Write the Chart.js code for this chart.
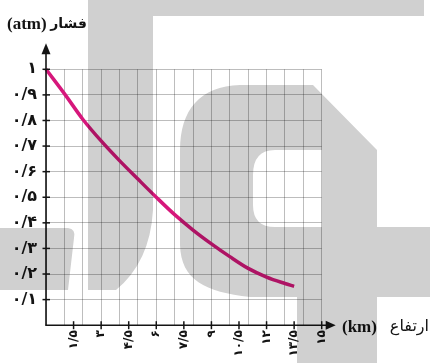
<!DOCTYPE html>
<html><head><meta charset="utf-8">
<script src="https://cdn.jsdelivr.net/npm/chart.js@4"></script>
<style>html,body{margin:0;padding:0;background:#fff;}#wrap{width:430px;height:363px;position:relative;}</style>
</head><body><div id="wrap"><canvas id="c" width="430" height="363"></canvas></div>
<script>
// ---- data ----
const altitudeKm  = [0, 1, 2, 3, 4, 5, 6, 7, 8, 9, 10, 11, 12, 13, 13.5];
const pressureAtm = [1.00, 0.905, 0.805, 0.72, 0.643, 0.571, 0.50, 0.432, 0.372, 0.318, 0.268, 0.222, 0.188, 0.163, 0.152];
const yTickLabels = ['', '۰/۱', '۰/۲', '۰/۳', '۰/۴', '۰/۵', '۰/۶', '۰/۷', '۰/۸', '۰/۹', '۱'];
const xTickLabels = ['', '۱/۵', '۳', '۴/۵', '۶', '۷/۵', '۹', '۱۰/۵', '۱۲', '۱۳/۵', '۱۵'];
const yTitleWord = 'فشار';
const yTitleUnit = '(atm)';
const xTitleUnit = '(km)';
const xTitleWord = 'ارتفاع';

const points = altitudeKm.map((x, i) => ({x: x, y: pressureAtm[i]}));
const gridColor = 'rgba(0,0,0,0.26)';
const ink = '#141414';

function watermark(ctx) {
  ctx.fillStyle = '#d0d0d0';
  ctx.beginPath();
  ctx.moveTo(88, 0); ctx.lineTo(424, 0); ctx.lineTo(424, 16); ctx.lineTo(153, 16);
  ctx.lineTo(153, 210); ctx.quadraticCurveTo(150, 262, 116, 290); ctx.lineTo(88, 290); ctx.closePath();
  ctx.fill();
  ctx.beginPath();
  ctx.moveTo(0, 228); ctx.lineTo(68, 228); ctx.quadraticCurveTo(76, 229, 74, 238); ctx.lineTo(68, 290); ctx.lineTo(0, 290); ctx.closePath();
  ctx.fill();
  ctx.beginPath();
  ctx.moveTo(180, 245); ctx.lineTo(180, 150); ctx.bezierCurveTo(180, 110, 200, 86, 240, 85); ctx.lineTo(313, 85);
  ctx.lineTo(377, 150); ctx.lineTo(377, 227); ctx.lineTo(430, 227); ctx.lineTo(430, 297); ctx.lineTo(377, 297);
  ctx.lineTo(377, 363); ctx.lineTo(297, 363); ctx.lineTo(297, 297); ctx.lineTo(250, 297);
  ctx.bezierCurveTo(205, 292, 181, 280, 180, 245); ctx.closePath();
  ctx.moveTo(322, 150); ctx.lineTo(275, 150); ctx.quadraticCurveTo(253, 150, 253, 175); ctx.lineTo(253, 205);
  ctx.quadraticCurveTo(253, 227, 275, 227); ctx.lineTo(322, 227); ctx.closePath();
  ctx.fill('evenodd');
}

const decor = {
  id: 'decor',
  afterDraw(chart) {
    const ctx = chart.ctx, a = chart.chartArea;
    const xs = chart.scales.xl, ys = chart.scales.y;
    const x0 = xs.getPixelForValue(0), y0 = ys.getPixelForValue(0);
    ctx.save();
    ctx.strokeStyle = ink; ctx.fillStyle = ink; ctx.lineWidth = 1.6;
    ctx.beginPath(); ctx.moveTo(x0, y0 + 0.5); ctx.lineTo(x0, a.top - 17); ctx.stroke();
    ctx.beginPath(); ctx.moveTo(x0 - 0.5, y0); ctx.lineTo(a.right + 7, y0); ctx.stroke();
    ctx.beginPath(); ctx.moveTo(x0, a.top - 26); ctx.lineTo(x0 - 4.5, a.top - 15); ctx.lineTo(x0 + 4.5, a.top - 15); ctx.closePath(); ctx.fill();
    ctx.beginPath(); ctx.moveTo(a.right + 14, y0); ctx.lineTo(a.right + 4, y0 - 4.5); ctx.lineTo(a.right + 4, y0 + 4.5); ctx.closePath(); ctx.fill();
    ctx.lineWidth = 1.5;
    ys.ticks.forEach(t => {
      if (t.value > 0.001) { const p = ys.getPixelForValue(t.value); ctx.beginPath(); ctx.moveTo(x0 - 3.5, p); ctx.lineTo(x0 + 4, p); ctx.stroke(); }
    });
    xs.ticks.forEach(t => {
      if (t.value > 0.001) { const p = xs.getPixelForValue(t.value); ctx.beginPath(); ctx.moveTo(p, y0 - 4); ctx.lineTo(p, y0 + 4); ctx.stroke(); }
    });
    // titles
    ctx.textBaseline = 'alphabetic';
    ctx.direction = 'ltr'; ctx.textAlign = 'left';
    ctx.font = 'bold 17px "Liberation Serif", serif';
    ctx.fillText(yTitleUnit, 7, 29);
    ctx.fillText(xTitleUnit, 342, 332);
    ctx.direction = 'rtl'; ctx.textAlign = 'right';
    ctx.font = 'bold 14px "DejaVu Sans", sans-serif';
    ctx.fillText(yTitleWord, 87, 28);
    ctx.font = '16px "DejaVu Sans", sans-serif';
    ctx.fillText(xTitleWord, 429, 331);
    // watermark (multiply)
    ctx.globalCompositeOperation = 'multiply';
    watermark(ctx);
    ctx.restore();
  }
};

new Chart(document.getElementById('c'), {
  type: 'line',
  data: { datasets: [{
    data: points, xAxisID: 'x', yAxisID: 'y',
    borderColor: '#d6177b', borderWidth: 3.5, pointRadius: 0,
    cubicInterpolationMode: 'monotone', fill: false, clip: 6
  }]},
  options: {
    responsive: false, animation: false, devicePixelRatio: 1,
    layout: { padding: { top: 69.3, right: 108.3, bottom: 0, left: 0 } },
    plugins: { legend: { display: false }, tooltip: { enabled: false }, title: { display: false } },
    scales: {
      x: {
        type: 'linear', position: 'bottom', min: 0, max: 15,
        ticks: { stepSize: 1, display: false },
        grid: { color: gridColor, lineWidth: 1, drawTicks: false },
        border: { display: false },
        afterFit(s) { s.height = 0; }
      },
      xl: {
        type: 'linear', position: 'bottom', min: 0, max: 15,
        ticks: { stepSize: 1.5, autoSkip: false, minRotation: 90, maxRotation: 90, padding: 5,
          color: ink, font: { family: '"DejaVu Sans", sans-serif', size: 12, weight: 'bold' },
          callback: (v, i) => xTickLabels[i] },
        grid: { display: false, drawTicks: false },
        border: { display: false },
        afterFit(s) { s.height = 37.8; }
      },
      y: {
        type: 'linear', position: 'left', min: 0, max: 1,
        ticks: { stepSize: 0.1, padding: 9, color: ink,
          font: { family: '"DejaVu Sans", sans-serif', size: 16, weight: 'bold' },
          callback: (v, i) => yTickLabels[i] },
        grid: { color: gridColor, lineWidth: 1, drawTicks: false },
        border: { display: false },
        afterFit(s) { s.width = 46; }
      }
    }
  },
  plugins: [decor]
});
</script>
</body></html>
